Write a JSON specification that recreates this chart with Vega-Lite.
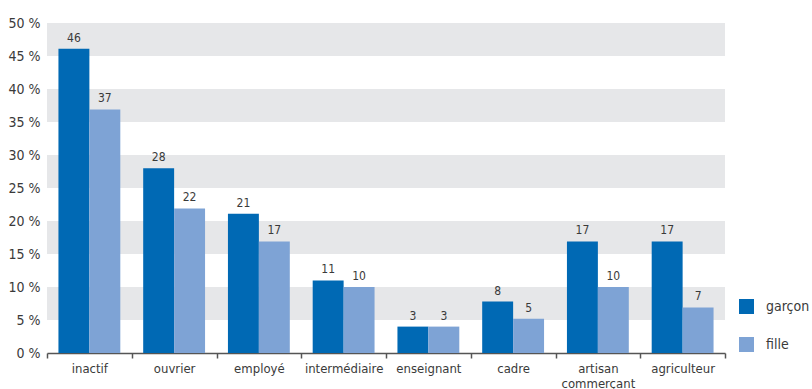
{
  "$schema": "https://vega.github.io/schema/vega-lite/v6.json",
  "width": 678,
  "height": 330,
  "autosize": {"type": "none"},
  "padding": {"left": 47, "top": 23, "right": 87, "bottom": 36},
  "background": "white",
  "config": {
    "view": {"stroke": null},
    "font": "DejaVu Sans Condensed, Roboto, sans-serif",
    "axis": {"labelFont": "DejaVu Sans Condensed, Roboto, sans-serif", "labelColor": "#3a3a3a", "title": null},
    "axisY": {
      "values": [0, 5, 10, 15, 20, 25, 30, 35, 40, 45, 50],
      "labelExpr": "datum.value + ' %'",
      "labelFontSize": 14,
      "labelPadding": 7,
      "labelOverlap": false,
      "ticks": false,
      "domain": false,
      "grid": false
    }
  },
  "layer": [
    {
      "data": {"values": [
        {"lo": 5, "hi": 10}, {"lo": 15, "hi": 20}, {"lo": 25, "hi": 30}, {"lo": 35, "hi": 40}, {"lo": 45, "hi": 50}
      ]},
      "mark": {"type": "rect", "color": "#e6e7e9"},
      "encoding": {
        "y": {"field": "lo", "type": "quantitative", "scale": {"domain": [0, 50], "nice": false},
          "axis": {"values": [0, 5, 10, 15, 20, 25, 30, 35, 40, 45, 50], "labelOverlap": false}},
        "y2": {"field": "hi"}
      }
    },
    {
      "data": {"name": "main", "values": [
        {"cat": "inactif", "sexe": "garçon", "v": 46.1, "lbl": "46"},
        {"cat": "inactif", "sexe": "fille", "v": 36.9, "lbl": "37"},
        {"cat": "ouvrier", "sexe": "garçon", "v": 28, "lbl": "28"},
        {"cat": "ouvrier", "sexe": "fille", "v": 21.9, "lbl": "22"},
        {"cat": "employé", "sexe": "garçon", "v": 21.1, "lbl": "21"},
        {"cat": "employé", "sexe": "fille", "v": 16.9, "lbl": "17"},
        {"cat": "intermédiaire", "sexe": "garçon", "v": 11, "lbl": "11"},
        {"cat": "intermédiaire", "sexe": "fille", "v": 10, "lbl": "10"},
        {"cat": "enseignant", "sexe": "garçon", "v": 4, "lbl": "3"},
        {"cat": "enseignant", "sexe": "fille", "v": 4, "lbl": "3"},
        {"cat": "cadre", "sexe": "garçon", "v": 7.8, "lbl": "8"},
        {"cat": "cadre", "sexe": "fille", "v": 5.2, "lbl": "5"},
        {"cat": "artisan commerçant", "sexe": "garçon", "v": 16.9, "lbl": "17"},
        {"cat": "artisan commerçant", "sexe": "fille", "v": 10, "lbl": "10"},
        {"cat": "agriculteur", "sexe": "garçon", "v": 16.9, "lbl": "17"},
        {"cat": "agriculteur", "sexe": "fille", "v": 6.9, "lbl": "7"}
      ]},
      "encoding": {
        "x": {
          "field": "cat", "type": "nominal", "sort": null,
          "scale": {"paddingInner": 0, "paddingOuter": 0},
          "axis": {
            "labelAngle": 0,
            "labelFontSize": 13,
            "labelPadding": 4,
            "tickBand": "extent",
            "tickSize": 5,
            "tickColor": "#555555",
            "tickWidth": 1.5,
            "domainColor": "#555555",
            "domainWidth": 1.5,
            "labelExpr": "datum.label == 'artisan commerçant' ? ['artisan', 'commerçant'] : datum.label",
            "labelLineHeight": 15
          }
        },
        "xOffset": {"field": "sexe", "type": "nominal", "sort": ["garçon", "fille"], "scale": {"paddingInner": 0, "paddingOuter": 0.37}},
        "y": {
          "field": "v", "type": "quantitative",
          "scale": {"domain": [0, 50], "nice": false},
          "axis": {"values": [0, 5, 10, 15, 20, 25, 30, 35, 40, 45, 50], "labelOverlap": false}
        }
      },
      "layer": [
        {
          "mark": {"type": "bar"},
          "encoding": {
            "color": {
              "field": "sexe", "type": "nominal", "sort": ["garçon", "fille"],
              "scale": {"domain": ["garçon", "fille"], "range": ["#0069b4", "#7ea3d5"]},
              "legend": {
                "title": null,
                "orient": "none",
                "legendX": 692,
                "legendY": 276,
                "padding": 0,
                "symbolType": "square",
                "symbolSize": 225,
                "symbolStrokeWidth": 0,
                "labelFont": "DejaVu Sans Condensed, Roboto, sans-serif",
                "labelFontSize": 14,
                "labelColor": "#3a3a3a",
                "labelOffset": 12,
                "rowPadding": 23
              }
            }
          }
        },
        {
          "mark": {"type": "text", "baseline": "bottom", "dy": -4, "fontSize": 12, "color": "#3a3a3a"},
          "encoding": {"text": {"field": "lbl", "type": "nominal"}}
        }
      ]
    }
  ]
}
